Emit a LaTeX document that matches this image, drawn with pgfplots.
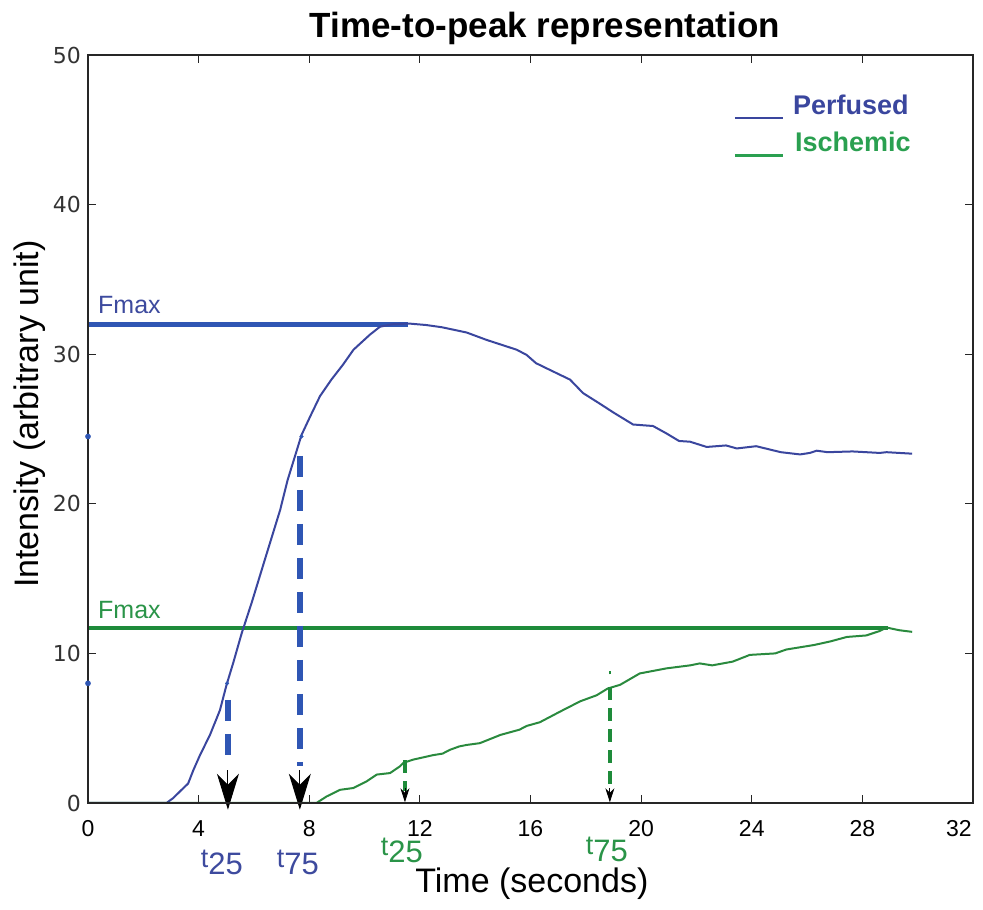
\documentclass[border=0pt]{standalone}
\usepackage{fontspec}
\setmainfont{Liberation Sans}
\newfontfamily\dejavu{DejaVu Sans}
\usepackage{pgfplots}
\pgfplotsset{compat=1.18}
\usetikzlibrary{arrows.meta}

\definecolor{bluecurve}{HTML}{3A469E}
\definecolor{bluefmax}{HTML}{2F56B4}
\definecolor{bluetext}{HTML}{3D4A9E}
\definecolor{greencurve}{HTML}{2A8A3E}
\definecolor{greenfmax}{HTML}{1E8B3A}
\definecolor{greentext}{HTML}{2A9448}
\definecolor{greenleg}{HTML}{2AA050}

\newcommand{\tlab}[2]{{\fontsize{27}{27}\selectfont t}{\fontsize{31}{31}\selectfont\raisebox{-7pt}{#2}}}

\begin{document}
\begin{tikzpicture}
\useasboundingbox (-88pt,-107pt) rectangle (895pt,803pt);
\begin{axis}[
    scale only axis,
    width=885pt, height=748pt,
    xmin=0, xmax=32, ymin=0, ymax=50,
    xtick={0,4,...,32}, ytick={0,10,...,50},
    xticklabels={0,4,8,12,16,20,24,28,\makebox[26pt][l]{\hspace*{-14pt}32}},
    tick align=inside,
    major tick length=8pt,
    axis line style={line width=1.6pt, black!85},
    every tick/.style={black!85, line width=0.9pt},
    clip=false,
    axis on top,
    /pgf/number format/assume math mode=true,
    yticklabel style={font=\dejavu\fontsize{22}{22}\selectfont, text=black!80,
        anchor=east, inner sep=0pt, xshift=-7pt},
    xticklabel style={font=\fontsize{23}{23}\selectfont, text=black,
        anchor=north, inner sep=0pt, yshift=-17pt},
]

% Fmax lines
\addplot[bluefmax, line width=5pt] coordinates {(0,32) (11.58,32)};
\addplot[greenfmax, line width=4.5pt] coordinates {(0,11.7) (28.92,11.7)};

% perfused curve
\addplot[bluecurve, line width=2pt] coordinates {
(0,0) (2.84,0) (3.08,0.33) (3.45,1.0) (3.62,1.3) (3.81,2.2) (4.05,3.2) (4.41,4.55)
(4.77,6.2) (5.01,7.9) (5.25,9.36) (5.56,11.36) (5.92,13.4) (6.45,16.6)
(6.95,19.6) (7.22,21.6) (7.72,24.6) (8.05,25.9) (8.39,27.2) (8.8,28.3) (9.22,29.3) (9.6,30.3)
(10.19,31.3) (10.56,31.84) (11.0,32.0) (11.6,32.05) (12.23,31.95) (12.8,31.8)
(13.69,31.45) (14.42,30.95) (15.5,30.3) (15.86,29.95) (16.2,29.4) (16.7,28.95)
(17.43,28.3) (17.9,27.4) (18.5,26.7) (19.0,26.1) (19.71,25.3) (20.43,25.2)
(20.92,24.7) (21.37,24.2) (21.77,24.15) (22.37,23.8) (23.07,23.9) (23.46,23.7)
(24.16,23.85) (25.05,23.45) (25.75,23.3) (26.1,23.4) (26.35,23.55) (26.74,23.45)
(27.64,23.5) (28.63,23.4) (28.87,23.45) (29.8,23.35)
};

% ischemic curve
\addplot[greencurve, line width=2pt] coordinates {
(0,0) (8.26,0) (8.63,0.44) (9.11,0.88) (9.59,1.0) (10.07,1.44) (10.44,1.9)
(10.92,2.0) (11.28,2.45) (11.4,2.67) (11.53,2.76) (11.76,2.9) (12.48,3.2)
(12.82,3.3) (13.08,3.55) (13.42,3.78) (13.69,3.88) (14.17,4.0) (14.91,4.55)
(15.6,4.9) (15.86,5.15) (16.34,5.4) (17.06,6.1) (17.8,6.8) (18.39,7.2)
(18.79,7.65) (19.24,7.9) (19.95,8.66) (20.92,9.0) (21.77,9.2) (22.12,9.33)
(22.57,9.2) (23.31,9.45) (23.93,9.9) (24.85,10.0) (25.25,10.26) (26.25,10.56)
(26.84,10.8) (27.44,11.1) (28.14,11.2) (28.63,11.5) (28.87,11.73) (29.33,11.55)
(29.8,11.44)
};

% t25 / t75 markers, perfused
\addplot[bluefmax, line width=5.5pt, dash pattern=on 21pt off 13pt]
    coordinates {(5.06,6.9) (5.06,2.5)};
\addplot[bluefmax, line width=5.5pt, dash pattern=on 21pt off 13pt]
    coordinates {(7.66,23.2) (7.66,2.5)};
\addplot[black, line width=1pt, -{Stealth[length=36pt, width=22pt, inset=11pt]}]
    coordinates {(5.06,2.2) (5.06,-0.45)};
\addplot[black, line width=1pt, -{Stealth[length=36pt, width=22pt, inset=11pt]}]
    coordinates {(7.66,2.2) (7.66,-0.45)};
\addplot[only marks, mark=*, mark size=2.6pt, bluefmax]
    coordinates {(0,24.5) (0,8)};
\addplot[only marks, mark=*, mark size=1.8pt, bluefmax]
    coordinates {(5.03,8.0) (7.72,24.5)};

% t25 / t75 markers, ischemic
\addplot[greenfmax, line width=4.5pt, dash pattern=on 13pt off 8pt]
    coordinates {(11.46,2.85) (11.46,0.8)};
\addplot[greenfmax, line width=4.5pt, dash pattern=on 13pt off 8pt]
    coordinates {(18.87,7.75) (18.87,0.8)};
\addplot[greenfmax, line width=2pt] coordinates {(18.87,8.6) (18.87,8.8)};
\addplot[black, line width=0.8pt, -{Stealth[length=14pt, width=9pt]}]
    coordinates {(11.46,1.0) (11.46,0.05)};
\addplot[black, line width=0.8pt, -{Stealth[length=14pt, width=9pt]}]
    coordinates {(18.87,1.0) (18.87,0.05)};

% legend
\addplot[bluecurve, line width=2.6pt] coordinates {(23.39,45.8) (25.13,45.8)};
\addplot[greenleg, line width=2.6pt] coordinates {(23.39,43.3) (25.13,43.3)};
\node[anchor=west, inner sep=0pt, text=bluecurve, font=\bfseries\fontsize{27}{27}\selectfont]
    at (axis cs:25.49,46.66) {Perfused};
\node[anchor=west, inner sep=0pt, text=greenleg, font=\bfseries\fontsize{27}{27}\selectfont]
    at (axis cs:25.56,44.2) {Ischemic};

% labels
\node[anchor=west, inner sep=0pt, text=bluetext, font=\fontsize{25}{25}\selectfont]
    at (axis cs:0.36,33.3) {Fmax};
\node[anchor=west, inner sep=0pt, text=greentext, font=\fontsize{25}{25}\selectfont]
    at (axis cs:0.36,12.9) {Fmax};
\node[text=bluetext, inner sep=0pt] at (axis cs:4.84,-3.94) {\tlab{t}{25}};
\node[text=bluetext, inner sep=0pt] at (axis cs:7.59,-3.94) {\tlab{t}{75}};
\node[text=greentext, inner sep=0pt] at (axis cs:11.35,-3.2) {\tlab{t}{25}};
\node[text=greentext, inner sep=0pt] at (axis cs:18.76,-3.1) {\tlab{t}{75}};

\node[font=\bfseries\fontsize{35}{35}\selectfont] at (axis cs:16.52,51.8)
    {Time-to-peak representation};
\node[font=\fontsize{34}{34}\selectfont] at (axis cs:16.05,-5.4) {Time (seconds)};
\node[font=\fontsize{34}{34}\selectfont, rotate=90] at (axis cs:-2.1,26.0)
    {Intensity (arbitrary unit)};
\end{axis}
\end{tikzpicture}
\end{document}
